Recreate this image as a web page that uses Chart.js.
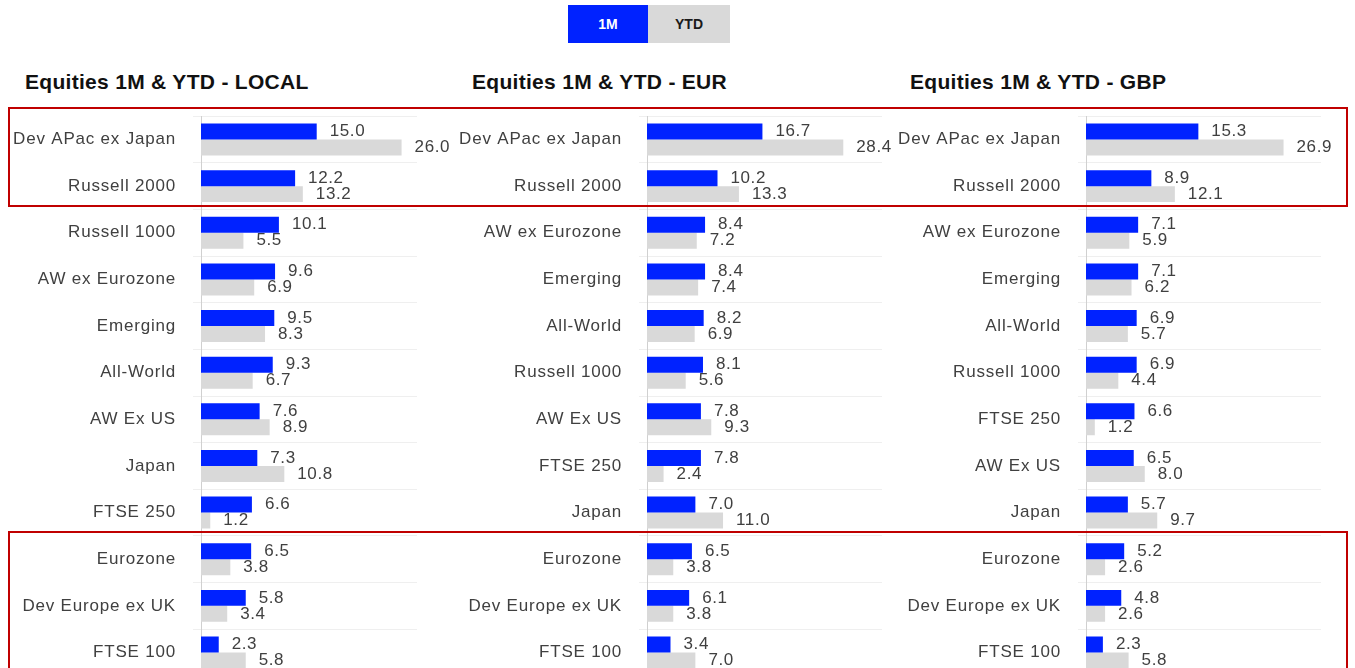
<!DOCTYPE html>
<html>
<head>
<meta charset="utf-8">
<script src="https://cdn.jsdelivr.net/npm/chart.js@4"></script>
<style>
  html, body {
    margin: 0;
    padding: 0;
    background: #ffffff;
    width: 1355px;
    height: 668px;
    overflow: hidden;
    font-family: "Liberation Sans", Arial, sans-serif;
  }
  .buttons {
    position: absolute;
    left: 568px;
    top: 5px;
    height: 38px;
    display: flex;
  }
  .buttons div {
    width: 80px;
    height: 38px;
    line-height: 38px;
    text-align: center;
    font-weight: bold;
    font-size: 14px;
  }
  .btn-on { background: #0022ff; color: #ffffff; }
  .btn-off { background: #d9d9d9; color: #1a1a1a; width: 82px !important; }
  .title {
    position: absolute;
    top: 70px;
    font-weight: bold;
    font-size: 21px;
    letter-spacing: 0.3px;
    color: #111111;
    white-space: nowrap;
  }
  .panel {
    position: absolute;
    top: 89px;
    height: 614px;
  }
  .redbox {
    position: absolute;
    border: 2px solid #c00000;
    box-sizing: border-box;
    pointer-events: none;
  }
</style>
</head>
<body>
<div class="buttons"><div class="btn-on">1M</div><div class="btn-off">YTD</div></div>

<div class="title" style="left:25px">Equities 1M &amp; YTD - LOCAL</div>
<div class="title" style="left:472px">Equities 1M &amp; YTD - EUR</div>
<div class="title" style="left:910px">Equities 1M &amp; YTD - GBP</div>

<div class="panel" style="left:0px;width:470px"><canvas id="chartLocal"></canvas></div>
<div class="panel" style="left:446px;width:460px"><canvas id="chartEur"></canvas></div>
<div class="panel" style="left:885px;width:470px"><canvas id="chartGbp"></canvas></div>

<div class="redbox" style="left:8px;top:107px;width:1340px;height:100px"></div>
<div class="redbox" style="left:8px;top:531px;width:1340px;height:200px"></div>

<script>
// LOCAL
var localLabels = ["Dev APac ex Japan", "Russell 2000", "Russell 1000", "AW ex Eurozone", "Emerging", "All-World",
  "AW Ex US", "Japan", "FTSE 250", "Eurozone", "Dev Europe ex UK", "FTSE 100"];
var local1M = [15.0, 12.2, 10.1, 9.6, 9.5, 9.3, 7.6, 7.3, 6.6, 6.5, 5.8, 2.3];
var localYTD = [26.0, 13.2, 5.5, 6.9, 8.3, 6.7, 8.9, 10.8, 1.2, 3.8, 3.4, 5.8];

// EUR
var eurLabels = ["Dev APac ex Japan", "Russell 2000", "AW ex Eurozone", "Emerging", "All-World", "Russell 1000",
  "AW Ex US", "FTSE 250", "Japan", "Eurozone", "Dev Europe ex UK", "FTSE 100"];
var eur1M = [16.7, 10.2, 8.4, 8.4, 8.2, 8.1, 7.8, 7.8, 7.0, 6.5, 6.1, 3.4];
var eurYTD = [28.4, 13.3, 7.2, 7.4, 6.9, 5.6, 9.3, 2.4, 11.0, 3.8, 3.8, 7.0];

// GBP
var gbpLabels = ["Dev APac ex Japan", "Russell 2000", "AW ex Eurozone", "Emerging", "All-World", "Russell 1000",
  "FTSE 250", "AW Ex US", "Japan", "Eurozone", "Dev Europe ex UK", "FTSE 100"];
var gbp1M = [15.3, 8.9, 7.1, 7.1, 6.9, 6.9, 6.6, 6.5, 5.7, 5.2, 4.8, 2.3];
var gbpYTD = [26.9, 12.1, 5.9, 6.2, 5.7, 4.4, 1.2, 8.0, 9.7, 2.6, 2.6, 5.8];

var FONT = "'Liberation Sans', Arial, sans-serif";

// wider letter spacing like the original export
var spacing = {
  id: 'spacing',
  beforeDraw: function (chart) {
    chart.ctx.letterSpacing = "0.8px";
  }
};

// draws the value next to the end of each bar
var valueLabels = {
  id: 'valueLabels',
  afterDatasetsDraw: function (chart) {
    var ctx = chart.ctx;
    ctx.save();
    ctx.letterSpacing = "0.6px";
    ctx.font = "17px " + FONT;
    ctx.fillStyle = "#404040";
    ctx.textAlign = "left";
    ctx.textBaseline = "middle";
    chart.data.datasets.forEach(function (ds, i) {
      var meta = chart.getDatasetMeta(i);
      meta.data.forEach(function (bar, j) {
        ctx.fillText(ds.data[j].toFixed(1), bar.x + 13, bar.y);
      });
    });
    ctx.restore();
  }
};

function makeChart(id, labels, oneMonth, ytd, xMax, padRight) {
  return new Chart(id, {
    type: "bar",
    plugins: [spacing, valueLabels],
    data: {
      labels: labels,
      datasets: [
        { label: "1M", data: oneMonth, backgroundColor: "#0022ff" },
        { label: "YTD", data: ytd, backgroundColor: "#d9d9d9" }
      ]
    },
    options: {
      indexAxis: "y",
      responsive: true,
      maintainAspectRatio: false,
      animation: false,
      layout: {
        padding: { top: 17, bottom: 22, left: 0, right: padRight }
      },
      datasets: {
        bar: { barPercentage: 1.0, categoryPercentage: 0.685 }
      },
      plugins: {
        legend: { display: false },
        tooltip: { enabled: false }
      },
      scales: {
        x: {
          display: false,
          min: 0,
          max: xMax
        },
        y: {
          afterFit: function (scale) {
            scale.width = 201;
          },
          grid: {
            color: "#efefef",
            tickLength: 8,
            drawTicks: true
          },
          border: { color: "#d0d0d0", width: 1 },
          ticks: {
            padding: 17,
            color: "#404040",
            font: { size: 17, family: FONT }
          }
        }
      }
    }
  });
}

makeChart("chartLocal", localLabels, local1M, localYTD, 28, 53);
makeChart("chartEur", eurLabels, eur1M, eurYTD, 34, 24);
makeChart("chartGbp", gbpLabels, gbp1M, gbpYTD, 32, 34);
</script>
</body>
</html>
